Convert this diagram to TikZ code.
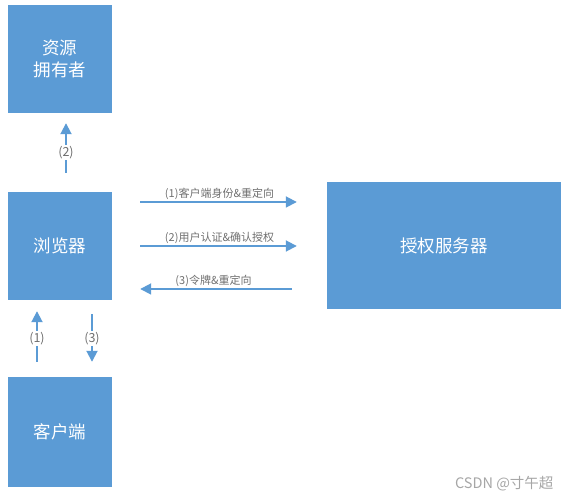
\documentclass[tikz,border=0pt]{standalone}
\usepackage{fontspec}
\setmainfont{Noto Sans CJK SC}
\usepackage{xcolor}
\usetikzlibrary{arrows.meta}
\definecolor{boxblue}{HTML}{5B9BD5}
\definecolor{labelgray}{HTML}{6F6F6F}
\begin{document}
\begin{tikzpicture}[x=1pt,y=-1pt,
            role/.style = {rectangle, fill=boxblue, text=white,
                        font=\fontsize{17.5}{22}\selectfont, align=center,
                        minimum width=104pt, minimum height=108pt},
            flow/.style = {draw=boxblue, line width=1.8pt,
                        -{Triangle[width=11pt,length=11pt]}},
            tag/.style = {text=labelgray, font=\fontsize{11}{13}\selectfont, inner sep=1pt},
            num/.style = {text=labelgray, fill=white, font=\fontsize{12.5}{14}\selectfont, inner sep=1pt}]
            \useasboundingbox (0,0) rectangle (571,502);
            % Resource owner
            \node[role] (owner) at (60,59) {资源\\拥有者};
            % Browser
            \node[role] (browser) at (60,246) {浏览器};
            % Client
            \node[role, minimum height=110pt] (client) at (60,432) {客户端};
            % Authorization server
            \node[role, minimum width=234pt, minimum height=127pt] (server) at (444,245.5) {授权服务器};
            % Vertical steps
            \draw[flow, shorten <=19pt, shorten >=10pt] ([xshift=6pt]browser.north) -- ([xshift=6pt]owner.south)
                node[num, midway] {(2)};
            \draw[flow, shorten <=15pt, shorten >=11pt] ([xshift=-23pt]client.north) -- ([xshift=-23pt]browser.south)
                node[num, midway] {(1)};
            \draw[flow, shorten <=14pt, shorten >=15pt] ([xshift=32pt]browser.south) -- ([xshift=32pt]client.north)
                node[num, midway] {(3)};
            % Horizontal steps
            \coordinate (s1) at ([yshift=44pt]browser.east);
            \coordinate (s3) at ([yshift=-43pt]browser.east);
            \draw[flow, shorten <=28pt, shorten >=30pt] (s1) -- (s1 -| server.west)
                node[tag, midway, above] {(1)客户端身份\&重定向};
            \draw[flow, shorten <=28pt, shorten >=30pt] (browser.east) -- (browser.east -| server.west)
                node[tag, midway, above] {(2)用户认证\&确认授权};
            \draw[flow, shorten <=35pt, shorten >=28pt] (s3 -| server.west) -- (s3)
                node[tag, midway, above, xshift=-6pt] {(3)令牌\&重定向};
            % Watermark
            \node[text=gray!70, font=\fontsize{14.5}{16}\selectfont, anchor=east] (mark) at (557,484) {CSDN @寸午超};
        \end{tikzpicture}
\end{document}
